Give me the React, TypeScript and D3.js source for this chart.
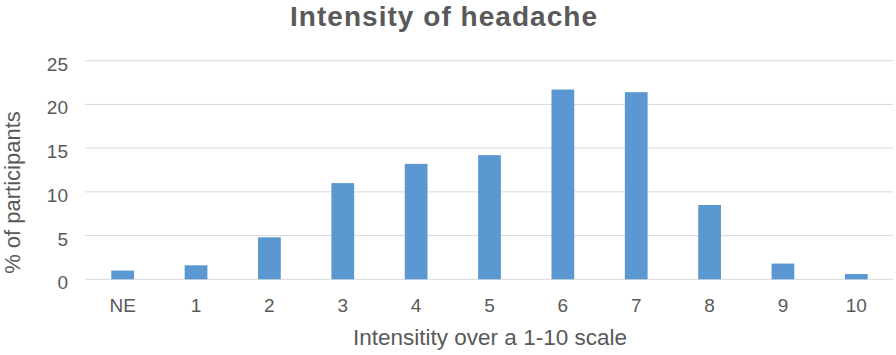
import React from "react";
import * as d3 from "d3";

const categories = ["NE", "1", "2", "3", "4", "5", "6", "7", "8", "9", "10"];
const values = [1.0, 1.6, 4.8, 11.0, 13.2, 14.2, 21.7, 21.4, 8.5, 1.8, 0.6];
const yTicks = [0, 5, 10, 15, 20, 25];
const title = "Intensity of headache";
const xTitle = "Intensitity over a 1-10 scale";
const yTitle = "% of participants";

const W = 896;
const H = 355;
const m = { left: 86, right: 3, top: 60.7, bottom: 75.7 };

export default function App() {
  const x = d3
    .scaleBand<string>()
    .domain(categories)
    .range([m.left, W - m.right])
    .paddingInner(0.69)
    .paddingOuter(0.345);
  const y = d3.scaleLinear().domain([0, 25]).range([H - m.bottom, m.top]);
  const font = "'Liberation Sans', Arial, Helvetica, sans-serif";
  const grey = "#595959";
  return (
    <svg
      width={W}
      height={H}
      style={{ position: "absolute", left: 0, top: 0, background: "#fff" }}
      fontFamily={font}
    >
      <text
        x={443.5}
        y={25.5}
        textAnchor="middle"
        fontSize={28}
        fontWeight="bold"
        fill={grey}
        textLength={307}
        lengthAdjust="spacing"
      >
        {title}
      </text>
      {yTicks.map((t) => (
        <g key={t}>
          <line x1={m.left - 1} x2={W - m.right} y1={y(t)} y2={y(t)} stroke="#D9D9D9" strokeWidth={1} />
          <text x={68} y={y(t) + 10} textAnchor="end" fontSize={19} fill={grey}>
            {t}
          </text>
        </g>
      ))}
      {categories.map((c, i) => (
        <rect
          key={c}
          x={x(c)!}
          y={y(values[i])}
          width={x.bandwidth()}
          height={y(0) - y(values[i])}
          fill="#5B97D0"
        />
      ))}
      {categories.map((c) => (
        <text
          key={c}
          x={x(c)! + x.bandwidth() / 2}
          y={y(0) + 33}
          textAnchor="middle"
          fontSize={19}
          fill={grey}
        >
          {c}
        </text>
      ))}
      <text x={490} y={345} textAnchor="middle" fontSize={22.5} fill={grey}>
        {xTitle}
      </text>
      <text
        transform={`translate(20, 192.5) rotate(-90)`}
        textAnchor="middle"
        fontSize={22}
        fill={grey}
      >
        {yTitle}
      </text>
    </svg>
  );
}
